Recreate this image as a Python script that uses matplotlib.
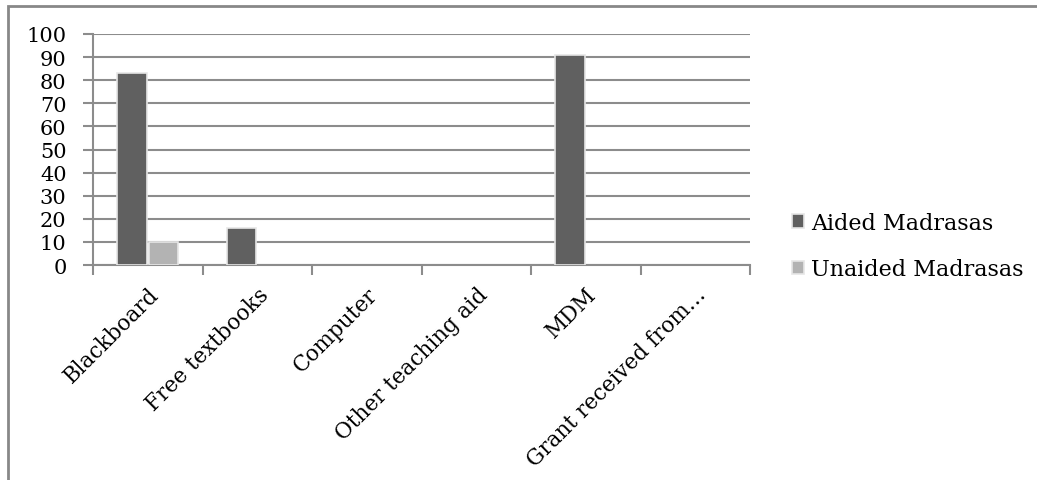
import matplotlib
matplotlib.use("Agg")
import matplotlib.pyplot as plt
from matplotlib.patches import Rectangle
from matplotlib.ticker import FixedLocator, NullFormatter
import numpy as np

categories = ["Blackboard", "Free textbooks", "Computer", "Other teaching aid",
              "MDM", "Grant received from\u2026"]
aided = [83, 16, 0, 0, 91, 0]
unaided = [10, 0, 0, 0, 0, 0]
series_names = ["Aided Madrasas", "Unaided Madrasas"]
y_ticks = list(range(0, 101, 10))

plt.rcParams["font.family"] = ["DejaVu Serif"]
W, H = 1037, 481
fig = plt.figure(figsize=(W / 100, H / 100), dpi=100)
ax = fig.add_axes([93 / W, 1 - 266 / H, (750 - 93) / W, (266 - 35) / H])

grid_c = "#8c8c8c"
x = np.arange(len(categories))
bw = 0.27
off = 0.143
bars_a = ax.bar(x - off, aided, bw, color="#606060", edgecolor="#e6e6e6",
                linewidth=1.2, label=series_names[0], zorder=3)
bars_u = ax.bar(x + off, unaided, bw, color="#b3b3b3", edgecolor="#e6e6e6",
                linewidth=1.2, label=series_names[1], zorder=3)
# empty categories draw nothing
for container, vals in ((bars_a, aided), (bars_u, unaided)):
    for rect, v in zip(container.patches, vals):
        if v == 0:
            rect.set_visible(False)

ax.set_xlim(-0.5, len(categories) - 0.5)
ax.set_ylim(0, 100)
ax.set_yticks(y_ticks)
ax.yaxis.grid(True, color=grid_c, linewidth=1.5, zorder=0)
ax.set_axisbelow(True)
for s in ["top", "right"]:
    ax.spines[s].set_visible(False)
for s in ["left", "bottom"]:
    ax.spines[s].set_color(grid_c)
    ax.spines[s].set_linewidth(1.5)

ax.set_xticks(x)
ax.set_xticklabels(categories, rotation=45, ha="right", va="top",
                   rotation_mode="anchor", fontsize=15.5)
ax.tick_params(axis="x", which="major", length=0, pad=13)
ax.xaxis.set_minor_locator(FixedLocator(np.arange(-0.5, len(categories), 1.0)))
ax.xaxis.set_minor_formatter(NullFormatter())
ax.tick_params(axis="x", which="minor", length=7, width=1.5, color=grid_c)
ax.tick_params(axis="y", length=7, width=1.5, color=grid_c, labelsize=15, pad=12)

leg = fig.legend(loc="upper left", bbox_to_anchor=(792 / W, 1 - 213 / H),
                 frameon=False, fontsize=16, handlelength=0.55, handleheight=0.55,
                 handletextpad=0.3, labelspacing=1.1, borderaxespad=0,
                 borderpad=0)

fig.patches.append(Rectangle((7.5 / W, -0.1), 1.2, 1 - 6.5 / H + 0.1,
                             transform=fig.transFigure, fill=False,
                             edgecolor="#888888", linewidth=2))

fig.savefig("out.png", dpi=100, facecolor="white")
